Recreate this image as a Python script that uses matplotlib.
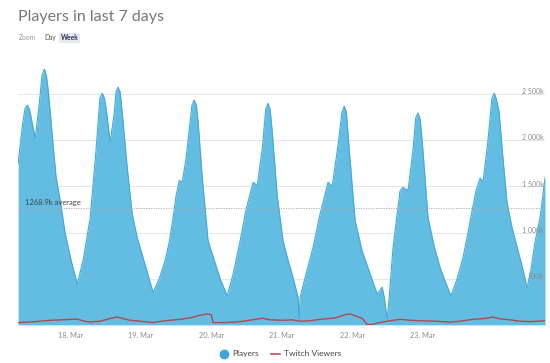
import matplotlib
matplotlib.use("Agg")
import matplotlib.pyplot as plt
from matplotlib.lines import Line2D

# hours relative to 18 Mar 00:00, players in thousands
player_hours = [-17.7, -16.3, -15.4, -14.6, -13.9, -13.3, -11.9, -10.5, -9.6, -8.8,
                -8.1, -7.5, -6.1, -4.8, -3.4, -1.7, 0.3, 2.4, 4.4, 6.8,
                8.8, 10.1, 10.9, 11.6, 12.2, 13.6, 15.0, 15.6, 16.3, 17.0,
                17.7, 19.4, 21.1, 22.8, 25.5, 28.2, 30.3, 32.3, 33.7, 35.0,
                36.0, 37.1, 38.1, 39.4, 40.8, 41.4, 42.2, 42.9, 43.5, 44.9,
                46.9, 49.0, 51.0, 53.4, 55.4, 57.8, 59.8, 62.2, 63.6, 65.3,
                66.5, 67.3, 68.0, 68.7, 70.4, 72.4, 74.1, 75.8, 77.5, 77.9,
                78.2, 80.2, 82.6, 85.0, 87.7, 89.1, 91.1, 92.4, 93.2, 93.9,
                94.9, 96.9, 99.3, 102.0, 104.4, 106.1, 106.8, 107.8, 108.5, 109.8,
                112.2, 113.2, 114.9, 116.6, 117.5, 118.3, 119.0, 119.7, 121.7, 123.8,
                125.8, 127.8, 129.5, 131.6, 133.6, 135.3, 136.7, 138.0, 139.4, 140.4,
                142.1, 143.4, 144.2, 144.9, 145.9, 147.2, 148.6, 150.3, 152.3, 154.0,
                155.4, 156.7, 158.1, 159.8, 161.5]
players = [1750, 2150, 2340, 2380, 2340, 2250, 2020, 2400, 2700, 2770,
           2700, 2550, 2050, 1600, 1350, 990, 700, 445, 700, 1160,
           1900, 2460, 2510, 2460, 2350, 1980, 2300, 2530, 2575, 2520,
           2300, 1700, 1200, 945, 650, 350, 500, 700, 900, 1160,
           1400, 1565, 1545, 1800, 2200, 2380, 2435, 2380, 2200, 1600,
           910, 700, 500, 315, 550, 910, 1250, 1545, 1510, 1900,
           2340, 2400, 2330, 2100, 1400, 910, 700, 510, 300, 60,
           300, 550, 840, 1205, 1545, 1500, 1950, 2300, 2370, 2310,
           1900, 1130, 800, 555, 335, 410, 300, 65, 300, 840,
           1455, 1490, 1455, 1900, 2240, 2295, 2230, 2000, 1160, 850,
           620, 450, 315, 500, 730, 1000, 1240, 1450, 1590, 1550,
           2000, 2450, 2510, 2450, 2300, 1800, 1315, 1050, 805, 600,
           400, 600, 900, 1160, 1600]

twitch_hours = [-17.7, -11.9, -6.8, -2.7, 0.0, 2.4, 4.8, 6.8, 10.2, 13.6,
                16.0, 18.4, 20.4, 23.8, 28.2, 32.3, 37.4, 41.5, 44.2, 46.6,
                48.0, 48.6, 52.7, 57.8, 62.9, 65.3, 68.0, 72.4, 75.5, 78.2,
                81.6, 85.0, 90.1, 93.5, 95.2, 97.2, 99.3, 101.0, 102.7, 104.4,
                108.8, 112.2, 115.6, 119.0, 124.1, 129.2, 132.6, 137.0, 141.1, 143.8,
                146.2, 149.6, 153.0, 156.4, 161.5]
twitch = [25, 35, 50, 55, 60, 62, 40, 30, 40, 70,
          85, 65, 50, 40, 25, 45, 60, 80, 105, 118,
          110, 25, 25, 35, 60, 72, 55, 50, 55, 40,
          45, 60, 75, 110, 118, 95, 70, 5, 5, 20,
          45, 60, 50, 45, 40, 30, 40, 60, 70, 85,
          65, 55, 40, 35, 45]

average = 1268.9
day_ticks = [0, 24, 48, 72, 96, 120]
day_labels = ["18. Mar", "19. Mar", "20. Mar", "21. Mar", "22. Mar", "23. Mar"]
y_ticks = [500, 1000, 1500, 2000, 2500]
y_labels = ["500k", "1 000k", "1 500k", "2 000k", "2 500k"]

plt.rcParams["font.family"] = ["Lato", "DejaVu Sans"]

fig = plt.figure(figsize=(5.5, 3.63), dpi=100)
ax = fig.add_axes([0.033, 0.105, 0.958, 0.763])

ax.fill_between(player_hours, players, 0, color="#63bde2", lw=0)
ax.plot(player_hours, players, color="#45a9d6", lw=0.8)
ax.plot(twitch_hours, twitch, color="#b5484b", lw=1.0)

ax.set_xlim(player_hours[0], player_hours[-1])
ax.set_ylim(0, 3000)
for s in ax.spines.values():
    s.set_visible(False)

ax.set_yticks(y_ticks)
ax.set_yticklabels([])
ax.tick_params(axis="y", length=0)
ax.grid(axis="y", color="#e6e6e6", lw=0.7)
ax.set_axisbelow(True)
for v, lab in zip(y_ticks, y_labels):
    ax.text(0.997, v + 25, lab, transform=ax.get_yaxis_transform(),
            ha="right", va="center", fontsize=5, color="#8c8c8c")

ax.set_xticks(day_ticks)
ax.set_xticklabels(day_labels, fontsize=5.3, color="#8c8c8c")
ax.tick_params(axis="x", length=0, pad=5)

# average line
ax.axhline(average, color="#aaaaaa", lw=0.6, ls=(0, (1.5, 1.5)))
ax.text(-15.3, average + 15, f"{average}k average", fontsize=5.5,
        color="#444444", va="bottom")

fig.text(0.033, 0.952, "Players in last 7 days", fontsize=11.5,
         color="#777777", va="center")
fig.text(0.035, 0.896, "Zoom", fontsize=4.8, color="#999999", va="center")
fig.text(0.081, 0.896, "Day", fontsize=4.8, color="#555555", va="center")
fig.text(0.111, 0.896, "Week", fontsize=4.8, color="#333355", va="center",
         fontweight="bold",
         bbox=dict(boxstyle="square,pad=0.25", fc="#e4e9f3", ec="none"))

handles = [Line2D([], [], marker="o", ls="none", color="#3ba6d8", markersize=6),
           Line2D([], [], color="#c0504d", lw=1.2)]
fig.legend(handles, ["Players", "Twitch Viewers"], loc="center",
           bbox_to_anchor=(0.51, 0.025), ncol=2, frameon=False,
           fontsize=6, handlelength=1.0, handletextpad=0.5,
           columnspacing=1.5, labelcolor="#444444")

fig.savefig("out.png", dpi=100)
